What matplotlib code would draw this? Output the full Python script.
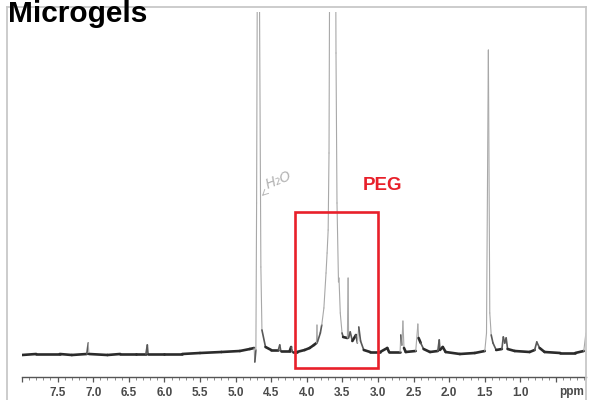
import numpy as np
import matplotlib
matplotlib.use("Agg")
import matplotlib.pyplot as plt
from matplotlib.collections import LineCollection
from matplotlib.patches import Rectangle
from matplotlib.lines import Line2D

# ---- data (chemical shift in ppm, relative intensity) ----
ppm = [8.00, 7.80, 7.47, 7.30, 7.09, 7.07, 7.06, 6.80, 6.62, 6.40, 6.26, 6.24, 6.23,
       6.00, 5.75, 5.50, 5.20, 4.94, 4.80,
       4.74, 4.73, 4.715, 4.705, 4.69, 4.675, 4.645, 4.63, 4.58, 4.50, 4.40, 4.38,
       4.365, 4.24, 4.22, 4.20, 4.14, 4.03, 3.96, 3.90, 3.865, 3.857, 3.85, 3.81,
       3.79, 3.76, 3.73, 3.715, 3.70, 3.688, 3.674, 3.60, 3.59, 3.576, 3.555,
       3.548, 3.53, 3.505, 3.49, 3.43, 3.42, 3.413, 3.39, 3.36, 3.31, 3.29, 3.27,
       3.245, 3.20, 3.11, 2.97, 2.87, 2.845, 2.69, 2.68, 2.665, 2.65, 2.635, 2.61,
       2.47, 2.44, 2.43, 2.40, 2.36, 2.27, 2.16, 2.14, 2.13, 2.09, 2.05, 1.85,
       1.64, 1.50, 1.476, 1.45, 1.43, 1.41, 1.385, 1.34, 1.26, 1.24, 1.22,
       1.20, 1.18, 1.08, 0.87, 0.80, 0.77, 0.73, 0.66, 0.44, 0.23, 0.11, 0.08]
intensity = [-2, -1, -1, -2, -1, 10, -1, -2, -1, -1, -1, 8, -1,
             -1, -1, 0, 1, 2, 4,
             5, -9, 3, 150, 500, 500, 86, 23, 6, 3, 3, 8,
             2, 2, 6, 1, 1, 3, 5, 8, 10, 28, 11, 20,
             28, 45, 80, 100, 123, 200, 500, 500, 300, 150, 71,
             75, 40, 20, 16, 15, 75, 15, 21, 12, 18, 10, 26,
             12, 3, 1, 1, 5, 1, 1, 18, 8, 32, 5, 1,
             2, 29, 15, 10, 4, 1, 2, 13, 3, 6, 1, -1,
             0, 2, 20, 303, 40, 18, 10, 3, 4, 16, 10,
             15, 4, 2, 1, 3, 11, 5, 1, 0, 0, 2, 20]

tick_values = [7.5, 7.0, 6.5, 6.0, 5.5, 5.0, 4.5, 4.0, 3.5, 3.0, 2.5, 2.0, 1.5, 1.0]
tick_labels = ["7.5", "7.0", "6.5", "6.0", "5.5", "5.0", "4.5", "4.0",
               "3.5", "3.0", "2.5", "2.0", "1.5", "1.0"]
title = "Microgels"
region_label = "PEG"
region_ppm = (3.0, 4.166)
water_label = "H\u2082O"

W, H = 589, 400
fig = plt.figure(figsize=(W / 100, H / 100), dpi=100)
fig.patch.set_facecolor("white")

# axes placed in pixel geometry
x0, x1 = 22, 586
y_top, y_axis = 12, 377
ax = fig.add_axes([x0 / W, 1 - y_axis / H, (x1 - x0) / W, (y_axis - y_top) / H])
px_per_ppm = 71.2
ax.set_xlim(8.0, 8.0 - (x1 - x0) / px_per_ppm)
ax.set_ylim(-24, 341)

# spectrum drawn as segments: fast (steep) pen strokes are pale and thin,
# the slow baseline trace is dark and thick
x = np.array(ppm)
y = np.array(intensity, dtype=float)
pts = np.column_stack([x, y])
segs = np.stack([pts[:-1], pts[1:]], axis=1)
dxp = np.abs(np.diff(x)) * px_per_ppm
dyp = np.abs(np.diff(y))
low = np.maximum(np.abs(y[:-1]), np.abs(y[1:])) < 30
gentle = (dyp < 1.2 * dxp + 2.5) & low
medium = (~gentle) & (dyp < 4 * dxp + 8) & low
col = np.zeros((len(segs), 4))
col[:, 3] = 1
col[gentle, :3] = 0.17
col[medium, :3] = 0.35
col[~(gentle | medium), :3] = 0.66
widths = np.where(gentle, 1.9, np.where(medium, 1.2, 0.8))
lc = LineCollection(segs, colors=col, linewidths=widths, capstyle="round", joinstyle="round")
ax.add_collection(lc)

# axis styling
for s in ["top", "left", "right"]:
    ax.spines[s].set_visible(False)
ax.spines["bottom"].set_color("#555555")
ax.spines["bottom"].set_linewidth(1.0)
ax.set_yticks([])
major = np.arange(8.0, 0.4, -0.5)
ax.set_xticks(major)
ax.set_xticks(np.arange(8.0, 0.05, -0.1), minor=True)
labels_full = []
for v in major:
    match = [l for t, l in zip(tick_values, tick_labels) if abs(t - v) < 1e-6]
    labels_full.append(match[0] if match else "")
ax.set_xticklabels(labels_full)
ax.tick_params(axis="x", which="major", direction="out", length=3.5, width=0.9,
               color="#555555", pad=3.5, labelsize=8.5, labelcolor="#4a4a4a")
ax.tick_params(axis="x", which="minor", direction="out", length=1.8, width=0.6, color="#777777")
for lab in ax.get_xticklabels():
    lab.set_fontweight("bold")
    lab.set_family(["Liberation Sans", "DejaVu Sans"])
fig.text(584 / W, 1 - 392 / H, "ppm", fontsize=8.5, fontweight="bold", color="#4a4a4a",
         va="center", ha="right", family=["Liberation Sans", "DejaVu Sans"])

# red box and label
ax.add_patch(Rectangle((region_ppm[1], -15), region_ppm[0] - region_ppm[1], 156,
                       fill=False, edgecolor="#e8202a", linewidth=1.9, clip_on=False, zorder=5))
ax.text(2.93, 167, region_label, color="#e8202a", fontsize=13.5, fontweight="bold",
        ha="center", va="center", family=["Liberation Sans", "DejaVu Sans"])

# handwritten water annotation
ax.annotate(water_label, xy=(4.63, 157), xytext=(4.40, 173), fontsize=10, color="#b4b4b4",
            rotation=22, ha="center", va="center", style="italic",
            arrowprops=dict(arrowstyle="->", color="#b8b8b8", lw=0.7, shrinkA=3, shrinkB=0))

# outer light frame
for (xa, ya, xb, yb) in [(7, 7, 586, 7), (7, 7, 7, 400), (586, 7, 586, 400)]:
    fig.add_artist(Line2D([xa / W, xb / W], [1 - ya / H, 1 - yb / H],
                          color="#c8c8c8", lw=1.3, transform=fig.transFigure))

# title (kept fully inside the picture)
fig.text(8 / W, 1 - 22 / H, title, fontsize=21.5, fontweight="bold", color="black",
         ha="left", va="baseline", family=["Liberation Sans", "DejaVu Sans"], zorder=10)

fig.savefig("out.png", dpi=100)
